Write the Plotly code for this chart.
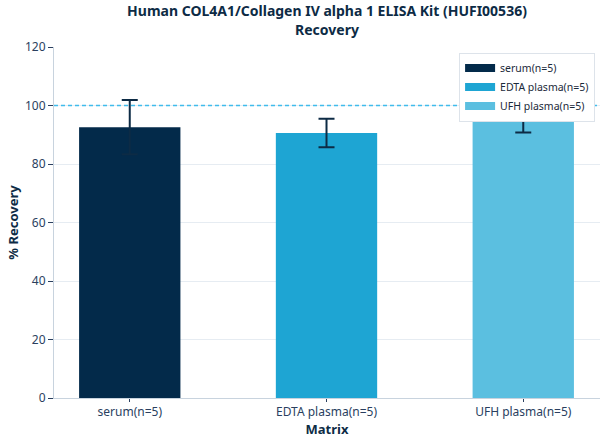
import plotly.graph_objects as go

TITLE = 'Human COL4A1/Collagen IV alpha 1 ELISA Kit (HUFI00536)<br>Recovery'

MATRICES = ['serum(n=5)', 'EDTA plasma(n=5)', 'UFH plasma(n=5)']
RECOVERY = [92.6, 90.6, 99.6]
RECOVERY_SD = [9.3, 4.9, 8.8]
COLORS = ['#032a4a', '#1ea5d3', '#5bbfe0']

INK = '#0d2b45'
FONT = 'Noto Sans'

fig = go.Figure()
for name, val, sd, col in zip(MATRICES, RECOVERY, RECOVERY_SD, COLORS):
    fig.add_trace(go.Bar(
        x=[name], y=[val], name=name, showlegend=False,
        width=0.515,
        marker=dict(color=col, line=dict(width=0)),
        error_y=dict(type='data', array=[sd], color=INK, thickness=2, width=8),
    ))
    # legend entry drawn as a flat rectangle, like the reference
    fig.add_trace(go.Scatter(
        x=[None], y=[None], name=name, mode='lines',
        line=dict(color=col, width=8),
    ))

# 100% reference line
fig.add_shape(type='line', xref='x domain', yref='y', x0=0, x1=1, y0=100, y1=100,
              line_color='#40bcec', line_width=1.5, line_dash='4px,3px',
              opacity=1, layer='above')

fig.update_layout(
    width=608, height=444,
    margin=dict(l=54, r=8, t=47, b=46, autoexpand=False),
    paper_bgcolor='white', plot_bgcolor='white',
    font=dict(family=FONT, size=12, color='#2a3f5f'),
    title=dict(text=TITLE, xref='paper', x=0.5, xanchor='center',
               yref='container', y=0.963, yanchor='top',
               font=dict(family=FONT, size=14, color=INK, weight='bold')),
    showlegend=True,
    barmode='overlay',
    legend=dict(x=0.991, y=0.984, xanchor='right', yanchor='top',
                bgcolor='white', bordercolor='#dde3ea', borderwidth=1,
                font=dict(size=10.5, color='#1b2a3a'),
                tracegroupgap=0, itemwidth=30),
)
fig.update_xaxes(
    title=dict(text='Matrix', font=dict(size=13, color=INK, weight='bold'), standoff=2),
    range=[-0.385, 2.39], automargin=False,
    showline=True, linecolor='#c8d3de', linewidth=1,
    ticks='outside', ticklen=3, tickcolor='#2a3f5f',
    showgrid=False,
)
fig.update_yaxes(
    title=dict(text='% Recovery', font=dict(size=13, color=INK, weight='bold'), standoff=3),
    range=[0, 120], dtick=20, automargin=False,
    showline=True, linecolor='#c8d3de', linewidth=1,
    ticks='outside', ticklen=5, tickcolor='#2a3f5f',
    showgrid=True, gridcolor='#e6ecf2', gridwidth=1,
    zeroline=False,
)

# drop the browser's default 8px body margin so the figure sits at the page corner
fig.write_html('out.html', config={'displayModeBar': False},
               post_script="document.body.style.margin='0';")
